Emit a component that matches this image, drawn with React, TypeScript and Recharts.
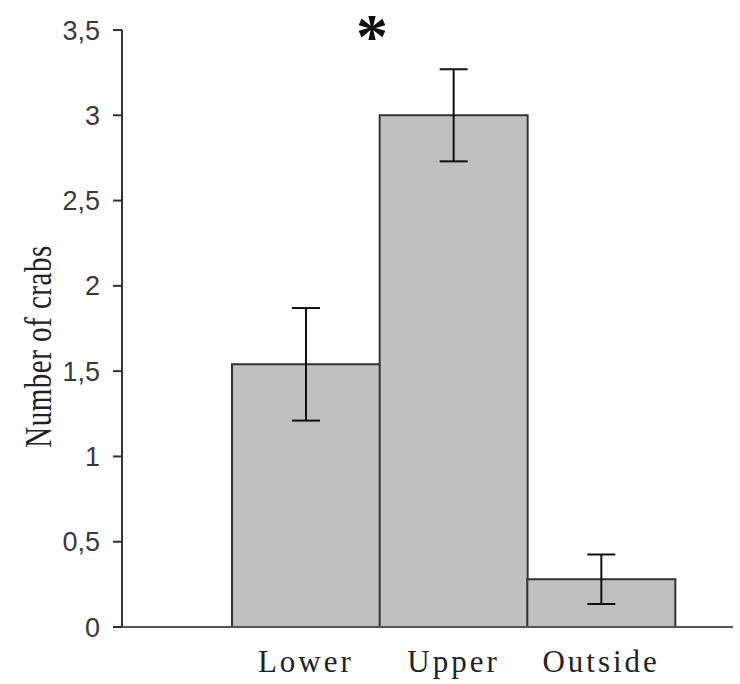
import React from "react";
import { BarChart, Bar, XAxis, YAxis, ErrorBar } from "recharts";

const categories = ["Lower", "Upper", "Outside"];
const crabCounts = [1.54, 3.0, 0.28];
const crabErrors = [0.33, 0.27, 0.145];
const yTicks = [0, 0.5, 1, 1.5, 2, 2.5, 3, 3.5];
const yLabel = "Number of crabs";
const significance = "*";

const data = categories.map((c, i) => ({ name: c, value: crabCounts[i], err: crabErrors[i] }));

const fmt = (v: number) => String(v).replace(".", ",");

const YLabel = (props: any) => {
  const vb = props.viewBox || {};
  const cx = 38;
  const cy = (vb.y ?? 0) + (vb.height ?? 0) / 2 + 18;
  return (
    <text
      x={0}
      y={0}
      transform={`translate(${cx}, ${cy}) rotate(-90) scale(1, 1.3)`}
      textAnchor="middle"
      dominantBaseline="central"
      fontFamily="'Liberation Serif', serif"
      fontSize={29}
      letterSpacing={0.5}
      fill="#222"
    >
      {yLabel}
    </text>
  );
};

export default function App() {
  return (
    <div style={{ position: "absolute", left: 0, top: 0, width: 740, height: 684, background: "#fff" }}>
      <BarChart
        width={740}
        height={684}
        data={data}
        margin={{ top: 30, right: 7, bottom: 0, left: 0 }}
        barCategoryGap={0}
      >
        <XAxis
          dataKey="name"
          padding={{ left: 110, right: 58 }}
          height={57}
          tickLine={false}
          tickSize={0}
          tickMargin={23}
          axisLine={{ stroke: "#555", strokeWidth: 2 }}
          tick={{ fontFamily: "'Liberation Serif', serif", fontSize: 31, fill: "#222", letterSpacing: 3 }}
          interval={0}
        />
        <YAxis
          width={122}
          domain={[0, 3.5]}
          ticks={yTicks}
          tickFormatter={fmt}
          tickSize={9}
          tickMargin={13}
          axisLine={{ stroke: "#333", strokeWidth: 2 }}
          tickLine={{ stroke: "#333", strokeWidth: 2 }}
          tick={{ fontFamily: "'Liberation Sans', Arial, sans-serif", fontSize: 27, fill: "#3a3a3a" }}
          label={<YLabel />}
          allowDataOverflow
        />
        <Bar dataKey="value" fill="#c0c0c0" stroke="#333" strokeWidth={2} isAnimationActive={false}>
          <ErrorBar dataKey="err" direction="y" width={14} stroke="#111" strokeWidth={2} />
        </Bar>
      </BarChart>
      <svg
        width={740}
        height={684}
        style={{ position: "absolute", left: 0, top: 0, pointerEvents: "none" }}
      >
        <text
          x={372}
          y={58}
          textAnchor="middle"
          fontFamily="'Liberation Serif', serif"
          fontWeight="bold"
          fontSize={64}
          fill="#111"
        >
          {significance}
        </text>
      </svg>
    </div>
  );
}
